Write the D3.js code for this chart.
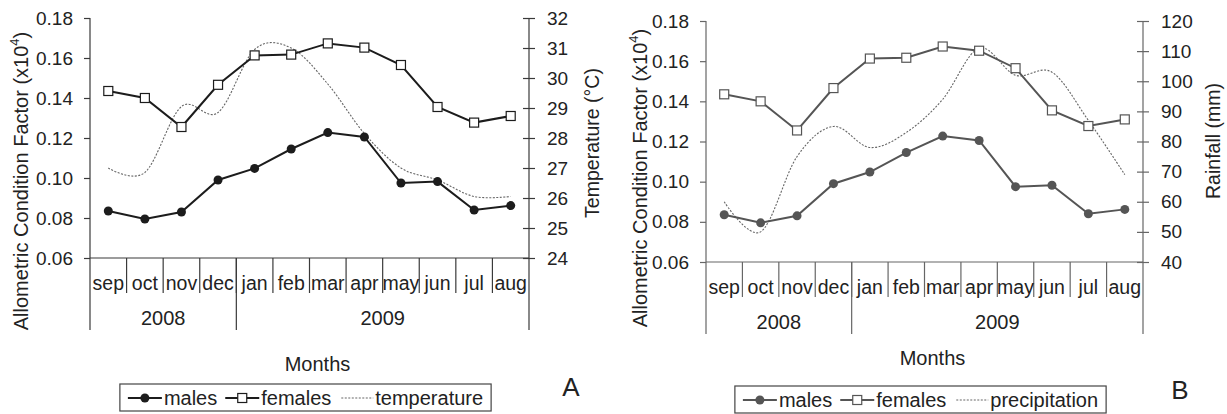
<!DOCTYPE html>
<html>
    <head>
        <meta charset="utf-8">
        <script src="https://d3js.org/d3.v7.min.js"></script>
        <style>
          body { margin: 0; background: #fff; }
          svg { display: block; font-family: "Liberation Sans", Arial, sans-serif; }
        </style>
    </head>
    <body>
        <div id="chart"></div>
        <script>
            // data
            const months = ["sep", "oct", "nov", "dec", "jan", "feb", "mar", "apr", "may", "jun", "jul", "aug"];
            const yearLabels = ["2008", "2009"];
            const yearSpans = [4, 8];   // number of months in each year group
            const males = [0.0835, 0.0795, 0.0830, 0.0990, 0.1048, 0.1145, 0.1227, 0.1205, 0.0975, 0.0982, 0.0840, 0.0862];
            const females = [0.1435, 0.1400, 0.1255, 0.1466, 0.1613, 0.1617, 0.1673, 0.1652, 0.1565, 0.1355, 0.1277, 0.1310];
            const temperature = [27.0, 26.85, 29.05, 28.85, 30.95, 31.0, 29.8, 28.15, 27.0, 26.6, 26.05, 26.05];
            const precipitation = [60, 50, 75, 85, 78, 83, 94, 111, 102, 103, 87, 69];
            const factorTicks = [0.06, 0.08, 0.10, 0.12, 0.14, 0.16, 0.18];
            const tempTicks = [24, 25, 26, 27, 28, 29, 30, 31, 32];
            const rainTicks = [40, 50, 60, 70, 80, 90, 100, 110, 120];

            const width = 1227, height = 414;

            const svg = d3.select("#chart")
              .append("svg")
                .attr("width", width)
                .attr("height", height);

            svg.append("rect").attr("width", width).attr("height", height).attr("fill", "#fff");

            // two panels, A (temperature) and B (rainfall)
            const panels = [
              { left: 90, right: 529, top: 18, bottom: 258,
                ink: "#1c1c1c", axis: "#3a3a3a",
                extra: temperature, extraDomain: [24, 32], extraTicks: tempTicks,
                extraTitle: "Temperature (°C)", extraName: "temperature",
                leftTitleX: 21, leftTitleY: 181, rightTitleX: 592, rightTitleY: 143,
                monthsY: 371, legendY: 384, tag: "A", tagX: 571, tagY: 396 },
              { left: 706, right: 1143, top: 21, bottom: 262,
                ink: "#555", axis: "#666",
                extra: precipitation, extraDomain: [40, 120], extraTicks: rainTicks,
                extraTitle: "Rainfall (mm)", extraName: "precipitation",
                leftTitleX: 640, leftTitleY: 178, rightTitleX: 1213, rightTitleY: 141,
                monthsY: 365, legendY: 386, tag: "B", tagX: 1180, tagY: 399 }
            ];

            panels.forEach(drawPanel);

            function drawPanel(p) {
              const g = svg.append("g");

              const x = d3.scaleBand().domain(months).range([p.left, p.right]);
              const cx = d => x(d) + x.bandwidth() / 2;
              const y = d3.scaleLinear().domain([0.06, 0.18]).range([p.bottom, p.top]);
              const y2 = d3.scaleLinear().domain(p.extraDomain).range([p.bottom, p.top]);

              // left axis
              const leftAxis = g.append("g")
                .attr("transform", `translate(${p.left},0)`)
                .call(d3.axisLeft(y).tickValues(factorTicks).tickFormat(d3.format(".2f")).tickSize(6).tickPadding(11));
              // right axis, ticks cross the line
              const rightAxis = g.append("g")
                .attr("transform", `translate(${p.right},0)`)
                .call(d3.axisRight(y2).tickValues(p.extraTicks).tickFormat(d3.format("d")).tickSize(6).tickPadding(12));
              rightAxis.selectAll(".tick line").attr("x1", -6);

              [leftAxis, rightAxis].forEach(a => {
                a.select(".domain").remove();
                a.selectAll(".tick line").attr("stroke", p.axis).attr("stroke-width", 1.2);
                a.selectAll(".tick text").attr("fill", "#222").style("font-size", "19px")
                  .style("font-family", "Liberation Sans, Arial, sans-serif");
              });

              // axis lines extended down through the month / year rows
              g.append("line")
                .attr("x1", p.left).attr("x2", p.left).attr("y1", p.top).attr("y2", p.bottom + 72)
                .attr("stroke", p.axis).attr("stroke-width", 1.2);
              g.append("line")
                .attr("x1", p.right).attr("x2", p.right).attr("y1", p.top).attr("y2", p.bottom + 72)
                .attr("stroke", p.axis).attr("stroke-width", 1.2);
              g.append("line")
                .attr("x1", p.left).attr("x2", p.right).attr("y1", p.bottom).attr("y2", p.bottom)
                .attr("stroke", p.axis).attr("stroke-width", 1.2);

              // month dividers
              g.selectAll(".mdiv")
                .data(months.slice(1))
                .join("line")
                  .attr("x1", d => x(d)).attr("x2", d => x(d))
                  .attr("y1", p.bottom).attr("y2", p.bottom + 35)
                  .attr("stroke", p.axis).attr("stroke-width", 1.2);

              g.selectAll(".mlab")
                .data(months)
                .join("text")
                  .attr("x", cx)
                  .attr("y", p.bottom + 32)
                  .attr("text-anchor", "middle")
                  .style("font-size", "19.5px")
                  .attr("fill", "#222")
                  .text(d => d);

              // year groups
              let start = 0;
              yearLabels.forEach((lab, i) => {
                const first = months[start], last = months[start + yearSpans[i] - 1];
                const xa = x(first), xb = x(last) + x.bandwidth();
                if (i > 0) {
                  g.append("line")
                    .attr("x1", xa).attr("x2", xa).attr("y1", p.bottom).attr("y2", p.bottom + 72)
                    .attr("stroke", p.axis).attr("stroke-width", 1.2);
                }
                g.append("text")
                  .attr("x", (xa + xb) / 2)
                  .attr("y", p.bottom + 67)
                  .attr("text-anchor", "middle")
                  .style("font-size", "20px")
                  .attr("fill", "#222")
                  .text(lab);
                start += yearSpans[i];
              });

              // axis titles
              const lt = g.append("text")
                .attr("transform", `translate(${p.leftTitleX},${p.leftTitleY}) rotate(-90)`)
                .attr("text-anchor", "middle")
                .attr("dominant-baseline", "central")
                .style("font-size", "20px")
                .attr("fill", "#222");
              lt.append("tspan").text("Allometric  Condition Factor (x10");
              lt.append("tspan").attr("dy", -7).style("font-size", "13px").text("4");
              lt.append("tspan").attr("dy", 7).text(")");

              g.append("text")
                .attr("transform", `translate(${p.rightTitleX},${p.rightTitleY}) rotate(-90)`)
                .attr("text-anchor", "middle")
                .attr("dominant-baseline", "central")
                .style("font-size", "19.5px")
                .attr("fill", "#222")
                .text(p.extraTitle);

              g.append("text")
                .attr("x", (p.left + p.right) / 2 + 8)
                .attr("y", p.monthsY)
                .attr("text-anchor", "middle")
                .style("font-size", "20px")
                .attr("fill", "#222")
                .text("Months");

              // dotted smooth line (temperature / precipitation)
              g.append("path")
                .datum(p.extra)
                .attr("fill", "none")
                .attr("stroke", "#666")
                .attr("stroke-width", 1.1)
                .attr("stroke-dasharray", "2,1.5")
                .attr("d", d3.line()
                  .x((d, i) => cx(months[i]))
                  .y(d => y2(d))
                  .curve(d3.curveCardinal.tension(0)));

              const line = d3.line()
                .x((d, i) => cx(months[i]))
                .y(d => y(d));

              g.append("path").datum(females)
                .attr("fill", "none").attr("stroke", p.ink).attr("stroke-width", 2)
                .attr("d", line);
              g.append("path").datum(males)
                .attr("fill", "none").attr("stroke", p.ink).attr("stroke-width", 2)
                .attr("d", line);

              g.selectAll(".fem")
                .data(females)
                .join("rect")
                  .attr("x", (d, i) => cx(months[i]) - 4.5)
                  .attr("y", d => y(d) - 4.5)
                  .attr("width", 9).attr("height", 9)
                  .attr("fill", "#fff").attr("stroke", p.ink).attr("stroke-width", 1.2);

              g.selectAll(".mal")
                .data(males)
                .join("circle")
                  .attr("cx", (d, i) => cx(months[i]))
                  .attr("cy", d => y(d))
                  .attr("r", 4.5)
                  .attr("fill", p.ink);

              // legend
              const lg = g.append("g");
              const items = [
                { name: "males", kind: "circle" },
                { name: "females", kind: "square" },
                { name: p.extraName, kind: "dot" }
              ];
              let lx = 8;
              items.forEach(it => {
                const sy = 14;
                if (it.kind === "dot") {
                  lg.append("line")
                    .attr("x1", lx + 2).attr("x2", lx + 34).attr("y1", sy).attr("y2", sy)
                    .attr("stroke", "#666").attr("stroke-width", 1.1).attr("stroke-dasharray", "2,1.5");
                } else {
                  lg.append("line")
                    .attr("x1", lx).attr("x2", lx + 34).attr("y1", sy).attr("y2", sy)
                    .attr("stroke", p.ink).attr("stroke-width", 2);
                  if (it.kind === "circle") {
                    lg.append("circle").attr("cx", lx + 17).attr("cy", sy).attr("r", 4.5).attr("fill", p.ink);
                  } else {
                    lg.append("rect").attr("x", lx + 12.5).attr("y", sy - 4.5).attr("width", 9).attr("height", 9)
                      .attr("fill", "#fff").attr("stroke", p.ink).attr("stroke-width", 1.2);
                  }
                }
                const t = lg.append("text")
                  .attr("x", lx + 36)
                  .attr("y", sy + 7)
                  .style("font-size", "20px")
                  .attr("fill", "#222")
                  .text(it.name);
                lx += 36 + t.node().getComputedTextLength() + 8;
              });
              const boxW = lx;
              lg.insert("rect", ":first-child")
                .attr("x", 0).attr("y", 0).attr("width", boxW).attr("height", 27)
                .attr("fill", "#fff").attr("stroke", "#444").attr("stroke-width", 1.2);
              lg.attr("transform", `translate(${(p.left + p.right) / 2 - boxW / 2 - 4},${p.legendY})`);

              g.append("text")
                .attr("x", p.tagX)
                .attr("y", p.tagY)
                .attr("text-anchor", "middle")
                .style("font-size", "26px")
                .attr("fill", "#222")
                .text(p.tag);
            }
        </script>
    </body>
</html>
